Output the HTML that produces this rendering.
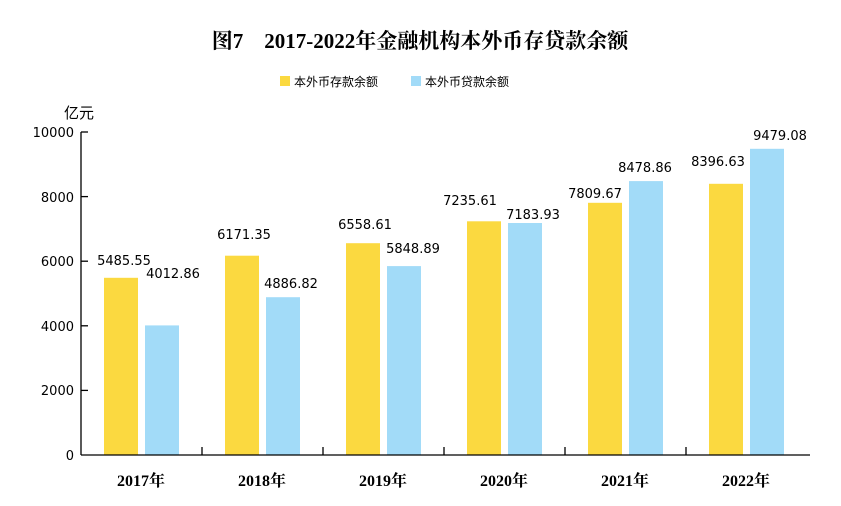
<!DOCTYPE html>
<html><head><meta charset="utf-8"><style>
body{margin:0;background:#fff;}
svg text{font-family:"DejaVu Sans","Noto Sans CJK SC",sans-serif;fill:#000;}
svg text.yr{font-family:"Liberation Serif","Noto Serif CJK SC",serif;font-weight:bold;font-size:16px;}
</style></head><body>
<svg width="841" height="501" xmlns="http://www.w3.org/2000/svg">
<text x="420" y="48" text-anchor="middle" font-size="21" font-weight="bold" style="font-family:'Liberation Serif','Noto Serif CJK SC',serif">图7　2017-2022年金融机构本外币存贷款余额</text>
<rect x="280" y="76" width="10" height="10" fill="#fbd940"/>
<text x="294" y="86" font-size="12" style="font-family:'Liberation Sans','Noto Sans CJK SC',sans-serif">本外币存款余额</text>
<rect x="411" y="76" width="10" height="10" fill="#a2dbf8"/>
<text x="425" y="86" font-size="12" style="font-family:'Liberation Sans','Noto Sans CJK SC',sans-serif">本外币贷款余额</text>
<text x="64" y="118" font-size="15" style="font-family:'Liberation Sans','Noto Sans CJK SC',sans-serif">亿元</text>
<g font-size="13" text-anchor="end">
<text x="74" y="137">10000</text><text x="74" y="202">8000</text><text x="74" y="266">6000</text>
<text x="74" y="331">4000</text><text x="74" y="395">2000</text><text x="74" y="460">0</text>
</g>
<g stroke="#000" stroke-width="1.3" fill="none">
<line x1="81" y1="132" x2="81" y2="455"/>
<line x1="81" y1="132" x2="88" y2="132"/><line x1="81" y1="196.6" x2="88" y2="196.6"/>
<line x1="81" y1="261.2" x2="88" y2="261.2"/><line x1="81" y1="325.8" x2="88" y2="325.8"/>
<line x1="81" y1="390.4" x2="88" y2="390.4"/>
<line x1="202" y1="447" x2="202" y2="455"/><line x1="323" y1="447" x2="323" y2="455"/>
<line x1="444" y1="447" x2="444" y2="455"/><line x1="565" y1="447" x2="565" y2="455"/>
<line x1="686" y1="447" x2="686" y2="455"/>
</g>
<g fill="#fbd940">
<rect x="104" y="277.8" width="34" height="177.2"/>
<rect x="225" y="255.7" width="34" height="199.3"/>
<rect x="346" y="243.2" width="34" height="211.8"/>
<rect x="467" y="221.3" width="34" height="233.7"/>
<rect x="588" y="202.8" width="34" height="252.2"/>
<rect x="709" y="183.8" width="34" height="271.2"/>
</g>
<g fill="#a2dbf8">
<rect x="145" y="325.4" width="34" height="129.6"/>
<rect x="266" y="297.2" width="34" height="157.8"/>
<rect x="387" y="266.1" width="34" height="188.9"/>
<rect x="508" y="223.0" width="34" height="232.0"/>
<rect x="629" y="181.1" width="34" height="273.9"/>
<rect x="750" y="148.8" width="34" height="306.2"/>
</g>
<line x1="81" y1="455" x2="810" y2="455" stroke="#000" stroke-width="1.3"/>
<g font-size="13" text-anchor="middle">
<text x="124" y="265">5485.55</text><text x="173" y="278">4012.86</text>
<text x="244" y="239">6171.35</text><text x="291" y="288">4886.82</text>
<text x="365" y="229">6558.61</text><text x="413" y="253">5848.89</text>
<text x="470" y="205">7235.61</text><text x="533" y="219">7183.93</text>
<text x="595" y="198">7809.67</text><text x="645" y="172">8478.86</text>
<text x="718" y="166">8396.63</text><text x="780" y="140">9479.08</text>
</g>
<g text-anchor="middle">
<text class="yr" x="141" y="486">2017年</text><text class="yr" x="262" y="486">2018年</text>
<text class="yr" x="383" y="486">2019年</text><text class="yr" x="504" y="486">2020年</text>
<text class="yr" x="625" y="486">2021年</text><text class="yr" x="746" y="486">2022年</text>
</g>
</svg>
</body></html>
